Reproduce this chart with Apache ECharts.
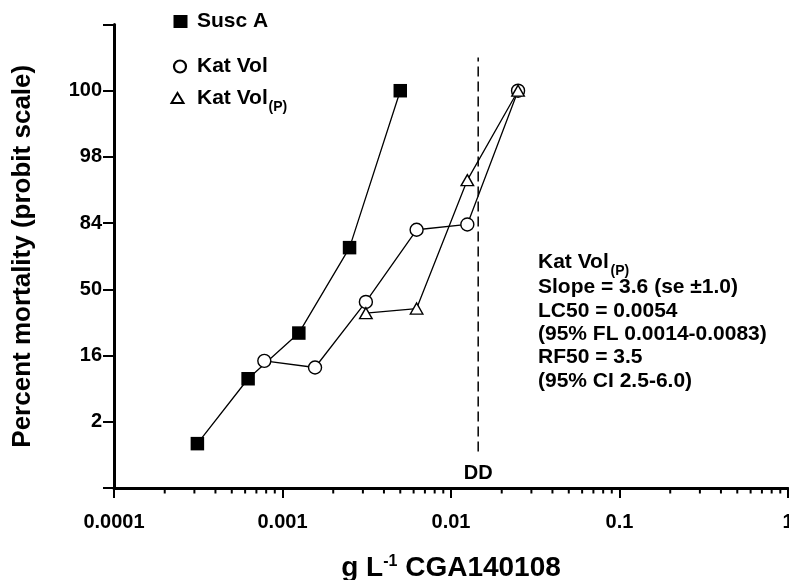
<!DOCTYPE html>
<html>
<head>
<meta charset="utf-8">
<script src="https://cdn.jsdelivr.net/npm/echarts@6/dist/echarts.min.js"></script>
<style>html,body{margin:0;padding:0;background:#fff;}#c{width:789px;height:580px;}</style>
</head>
<body>
<div id="c"></div>
<script>
// ---- data (x: g L-1 CGA140108, y: probit units) ----
var suscAX = [0.0003125, 0.000625, 0.00125, 0.0025, 0.005];
var suscAY = [2.67, 3.65, 4.34, 5.63, 8.0];
var katVolX = [0.00078, 0.00156, 0.003125, 0.00625, 0.0125, 0.025];
var katVolY = [3.92, 3.82, 4.81, 5.90, 5.98, 8.0];
var katVolPX = [0.003125, 0.00625, 0.0125, 0.025];
var katVolPY = [4.64, 4.71, 6.65, 8.0];
var ddX = 0.0145;
var ddY = [2.55, 8.5];
var xTickLabels = ['0.0001', '0.001', '0.01', '0.1', '1'];      // decades -4..0
var yTickLabels = ['', '2', '16', '50', '84', '98', '100', '']; // probit 2..9
var minorMultiples = [2, 3, 4, 5, 6, 7, 8, 9];
var minorDecades = [0.0001, 0.001, 0.01, 0.1];
var annotationLines = ['Slope = 3.6 (se \u00b11.0)', 'LC50 = 0.0054', '(95% FL 0.0014-0.0083)', 'RF50 = 3.5', '(95% CI 2.5-6.0)'];

function pairs(xs, ys) { return xs.map(function (x, i) { return [x, ys[i]]; }); }
var minorTicks = [];
minorDecades.forEach(function (d) { minorMultiples.forEach(function (m) { minorTicks.push([m * d, 2]); }); });

var FONT = 'Liberation Sans, Arial, sans-serif';
var chart = echarts.init(document.getElementById('c'));

var graphics = [
  // legend
  { type: 'rect', shape: { x: 173.5, y: 15, width: 14, height: 13 }, style: { fill: '#000' } },
  { type: 'text', style: { x: 197, y: 21.5, text: 'Susc A', font: 'bold 21px ' + FONT, fill: '#000', verticalAlign: 'middle' } },
  { type: 'circle', shape: { cx: 180, cy: 66.5, r: 6 }, style: { fill: '#fff', stroke: '#000', lineWidth: 2.2 } },
  { type: 'text', style: { x: 197, y: 66.5, text: 'Kat Vol', font: 'bold 21px ' + FONT, fill: '#000', verticalAlign: 'middle' } },
  { type: 'polygon', shape: { points: [[177.5, 93], [183.5, 103], [171.5, 103]] }, style: { fill: '#fff', stroke: '#000', lineWidth: 2 } },
  { type: 'text', style: { x: 197, y: 98.5, text: 'Kat Vol', font: 'bold 21px ' + FONT, fill: '#000', verticalAlign: 'middle' } },
  { type: 'text', style: { x: 268.5, y: 107.5, text: '(P)', font: 'bold 14px ' + FONT, fill: '#000', verticalAlign: 'middle' } },
  // annotation
  { type: 'text', style: { x: 538, y: 262, text: 'Kat Vol', font: 'bold 21px ' + FONT, fill: '#000', verticalAlign: 'middle' } },
  { type: 'text', style: { x: 610.5, y: 271.5, text: '(P)', font: 'bold 14px ' + FONT, fill: '#000', verticalAlign: 'middle' } }
];
annotationLines.forEach(function (t, i) {
  graphics.push({ type: 'text', style: { x: 538, y: 287.5 + i * 23.4, text: t, font: 'bold 21px ' + FONT, fill: '#000', verticalAlign: 'middle' } });
});

chart.setOption({
  animation: false,
  backgroundColor: '#fff',
  textStyle: { fontFamily: FONT },
  grid: { left: 114, right: 1, top: 24.5, bottom: 92, containLabel: false, outerBoundsMode: 'none' },
  xAxis: {
    type: 'log', logBase: 10, min: 0.0001, max: 1,
    name: '{a|g L}{s|-1}{a| CGA140108}',
    nameLocation: 'middle', nameGap: 66,
    nameTextStyle: {
      rich: {
        a: { fontSize: 28, fontWeight: 'bold', fontFamily: FONT, color: '#000', lineHeight: 28 },
        s: { fontSize: 16, fontWeight: 'bold', fontFamily: FONT, color: '#000', verticalAlign: 'top', lineHeight: 16 }
      }
    },
    axisLine: { show: true, onZero: false, lineStyle: { color: '#000', width: 3 } },
    axisTick: { show: true, length: 10, lineStyle: { color: '#000', width: 2 } },
    minorTick: { show: false },
    splitLine: { show: false },
    axisLabel: {
      show: true, margin: 24, color: '#000', fontSize: 20, fontWeight: 'bold', fontFamily: FONT,
      showMinLabel: true, showMaxLabel: true, hideOverlap: false,
      formatter: function (v) { return xTickLabels[Math.round(Math.log10(v)) + 4]; }
    }
  },
  yAxis: {
    type: 'value', min: 2, max: 9, interval: 1,
    name: 'Percent mortality (probit scale)',
    nameLocation: 'middle', nameGap: 78,
    nameTextStyle: { fontSize: 26, fontWeight: 'bold', fontFamily: FONT, color: '#000' },
    axisLine: { show: true, onZero: false, lineStyle: { color: '#000', width: 3 } },
    axisTick: { show: true, length: 11, lineStyle: { color: '#000', width: 2 } },
    splitLine: { show: false },
    axisLabel: {
      margin: 12, color: '#000', fontSize: 20, fontWeight: 'bold', fontFamily: FONT,
      showMinLabel: true, showMaxLabel: true,
      formatter: function (v) { return yTickLabels[Math.round(v) - 2]; }
    }
  },
  series: [
    {
      name: 'minorTicks', type: 'custom', silent: true, clip: false, z: 1,
      data: minorTicks,
      renderItem: function (params, api) {
        var p = api.coord([api.value(0), api.value(1)]);
        return { type: 'line', shape: { x1: p[0], y1: p[1], x2: p[0], y2: p[1] + 5.5 }, style: { stroke: '#000', lineWidth: 2 } };
      }
    },
    {
      name: 'DD', type: 'line', silent: true, z: 2,
      data: [
        { value: [ddX, ddY[0]], label: { show: true, position: 'bottom', distance: 12, formatter: 'DD', color: '#000', fontSize: 20, fontWeight: 'bold', fontFamily: FONT } },
        { value: [ddX, ddY[1]] }
      ],
      symbol: 'circle', symbolSize: 0, showSymbol: true,
      lineStyle: { color: '#000', width: 1.5, type: [10, 5] }
    },
    {
      name: 'Susc A', type: 'line', z: 3,
      data: pairs(suscAX, suscAY),
      symbol: 'rect', symbolSize: 13.5,
      itemStyle: { color: '#000', borderColor: '#000', borderWidth: 0 },
      lineStyle: { color: '#000', width: 1.3 }
    },
    {
      name: 'Kat Vol', type: 'line', z: 4,
      data: pairs(katVolX, katVolY),
      symbol: 'circle', symbolSize: 13,
      itemStyle: { color: '#fff', borderColor: '#000', borderWidth: 1.4 },
      lineStyle: { color: '#000', width: 1.3 }
    },
    {
      name: 'Kat Vol(P)', type: 'line', z: 5,
      data: pairs(katVolPX, katVolPY),
      symbol: 'triangle', symbolSize: [12.5, 11],
      itemStyle: { color: '#fff', borderColor: '#000', borderWidth: 1.4 },
      lineStyle: { color: '#000', width: 1.3 }
    }
  ],
  graphic: graphics
});
</script>
</body>
</html>
